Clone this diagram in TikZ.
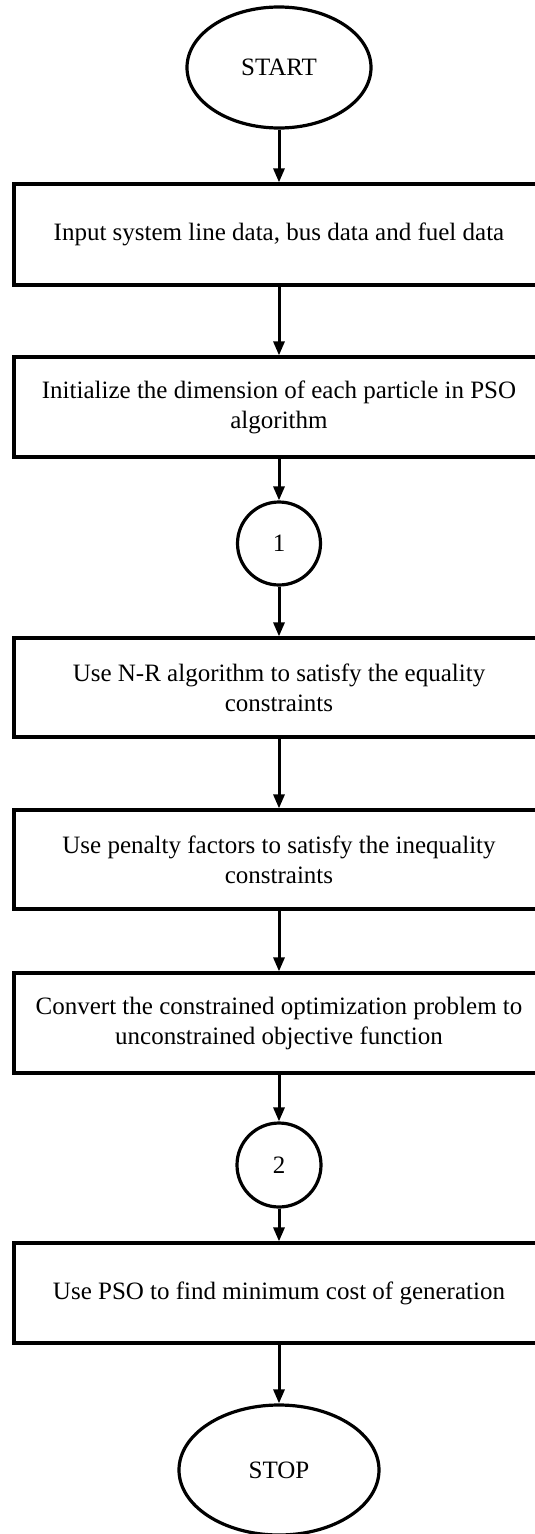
\documentclass[tikz,border=0pt]{standalone}
\usepackage{fontspec}
\setmainfont{Liberation Serif}
\usetikzlibrary{shapes.geometric,arrows.meta}
\begin{document}
\begin{tikzpicture}[x=1pt,y=-1pt,
  every node/.style={font=\fontsize{25}{30}\selectfont},
  stepbox/.style={draw,line width=3.2pt,minimum width=530pt,minimum height=100pt,
    align=center,inner sep=0pt},
  terminal/.style={draw,ellipse,line width=3.2pt,inner sep=0pt},
  connector/.style={draw,circle,line width=3.2pt,minimum size=83pt,inner sep=0pt},
  flow/.style={line width=3pt,-{Triangle[length=14pt,width=11pt]}}]
\useasboundingbox (0,0) rectangle (535,1534);
\fill[white] (0,0) rectangle (535,1534);

% terminals, process steps and on-page connectors, top to bottom
\node[terminal,minimum width=184pt,minimum height=121pt] (start) at (279,67.5) {START};
\node[stepbox,minimum height=101pt] (b1) at (279,234.5) {Input system line data, bus data and fuel data};
\node[stepbox] (b2) at (279,407) {Initialize the dimension of each particle in PSO\\algorithm};
\node[connector] (c1) at (279,543.5) {1};
\node[stepbox,minimum height=99pt] (b3) at (279,687.5) {Use N-R algorithm to satisfy the equality\\constraints};
\node[stepbox,minimum height=99pt] (b4) at (279,859.5) {Use penalty factors to satisfy the inequality\\constraints};
\node[stepbox] (b5) at (279,1023) {Convert the constrained optimization problem to\\unconstrained objective function};
\node[connector,minimum size=84pt] (c2) at (279,1165) {2};
\node[stepbox] (b6) at (279,1293) {Use PSO to find minimum cost of generation};
\node[terminal,minimum width=200pt,minimum height=130pt] (stop) at (279,1470) {STOP};

% flow arrows
\draw[flow] (start) -- (b1);
\draw[flow] (b1) -- (b2);
\draw[flow] (b2) -- (c1);
\draw[flow] (c1) -- (b3);
\draw[flow] (b3) -- (b4);
\draw[flow] (b4) -- (b5);
\draw[flow] (b5) -- (c2);
\draw[flow] (c2) -- (b6);
\draw[flow] (b6) -- (stop);
\end{tikzpicture}
\end{document}
